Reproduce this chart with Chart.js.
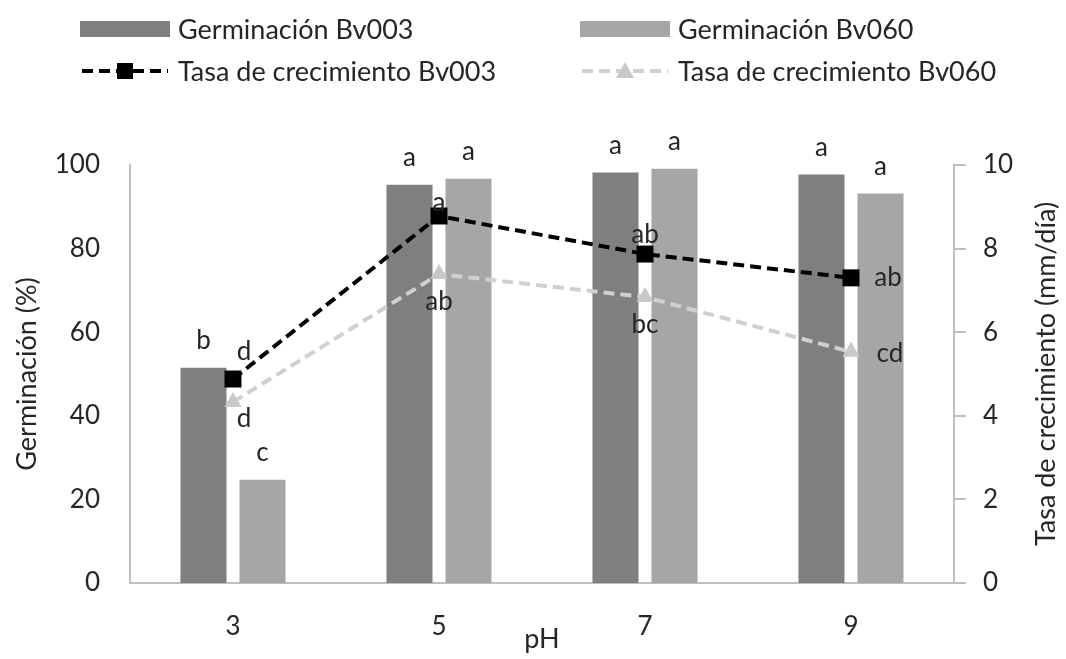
<!DOCTYPE html>
<html>
<head>
<meta charset="utf-8">
<script src="https://cdn.jsdelivr.net/npm/chart.js@4.4.1/dist/chart.umd.min.js"></script>
<style>
  body { margin: 0; background: #fff; }
  #wrap { position: relative; width: 1066px; height: 659px; font-family: Lato, sans-serif; color: #262626; }
  #legend { position: absolute; left: 0; top: 0; width: 1066px; height: 100px; }
  .item { position: absolute; display: flex; align-items: center; font-size: 27px; white-space: nowrap; }
  .item svg { margin-right: 8px; }
</style>
</head>
<body>
<div id="wrap">
  <canvas id="chart" width="1066" height="659"></canvas>
  <div id="legend">
    <div class="item" style="left:80px; top:12px;">
      <svg width="90" height="18"><rect x="0" y="1" width="90" height="16" fill="#7f7f7f"/></svg>Germinación Bv003
    </div>
    <div class="item" style="left:580px; top:12px;">
      <svg width="90" height="18"><rect x="0" y="1" width="90" height="16" fill="#a6a6a6"/></svg>Germinación Bv060
    </div>
    <div class="item" style="left:80px; top:54px;">
      <svg width="90" height="24"><line x1="2" y1="12" x2="88" y2="12" stroke="#000" stroke-width="4" stroke-dasharray="11,6"/><rect x="37" y="4" width="16" height="16" fill="#000"/></svg>Tasa de crecimiento Bv003
    </div>
    <div class="item" style="left:580px; top:54px;">
      <svg width="90" height="24"><line x1="2" y1="12" x2="88" y2="12" stroke="#d0d0d0" stroke-width="4" stroke-dasharray="11,6"/><polygon points="45,3 54,19 36,19" fill="#c8c8c8"/></svg>Tasa de crecimiento Bv060
    </div>
  </div>
</div>
<script>
// pH levels on the x axis
const phLabels = ['3', '5', '7', '9'];

// germination (%) per strain
const germBv003 = [51.5, 95.3, 98.2, 97.7];
const germBv060 = [24.7, 96.7, 99.1, 93.2];

// growth rate (mm/día) per strain
const rateBv003 = [4.88, 8.78, 7.87, 7.30];
const rateBv060 = [4.33, 7.39, 6.84, 5.53];

// significance letters
const lettersGermBv003 = ['b', 'a', 'a', 'a'];
const lettersGermBv060 = ['c', 'a', 'a', 'a'];
const lettersRateBv003 = ['d', 'a', 'ab', 'ab'];
const lettersRateBv060 = ['d', 'ab', 'bc', 'cd'];

const FONT = 'Lato, sans-serif';
const TEXT = '#262626';
const AXIS = '#bfbfbf';

// where each line letter sits relative to its point: [dx, dy]
const rateBv003Offsets = [[11, -27], [0, -13], [0, -19], [37, 0]];
const rateBv060Offsets = [[11, 17], [0, 28], [0, 28], [39, 2]];

const lettersPlugin = {
    id: 'letters',
    afterDatasetsDraw(chart) {
        const ctx = chart.ctx;
        ctx.save();
        ctx.font = '26px ' + FONT;
        ctx.fillStyle = TEXT;
        ctx.textAlign = 'center';
        ctx.textBaseline = 'middle';
        const barSets = [[0, lettersGermBv003], [1, lettersGermBv060]];
        barSets.forEach(([i, letters]) => {
            chart.getDatasetMeta(i).data.forEach((bar, j) => {
                ctx.fillText(letters[j], bar.x, bar.y - 27);
            });
        });
        const lineSets = [[2, lettersRateBv003, rateBv003Offsets], [3, lettersRateBv060, rateBv060Offsets]];
        lineSets.forEach(([i, letters, offs]) => {
            chart.getDatasetMeta(i).data.forEach((pt, j) => {
                ctx.fillText(letters[j], pt.x + offs[j][0], pt.y + offs[j][1]);
            });
        });
        // right axis title, reading bottom to top
        const area = chart.chartArea;
        ctx.translate(1046, (area.top + area.bottom) / 2);
        ctx.rotate(-Math.PI / 2);
        ctx.font = '27px ' + FONT;
        ctx.fillText('Tasa de crecimiento (mm/día)', 0, 0);
        ctx.restore();
    }
};

new Chart(document.getElementById('chart'), {
    type: 'bar',
    data: {
        labels: phLabels,
        datasets: [{
            label: 'Germinación Bv003',
            data: germBv003,
            backgroundColor: '#7f7f7f',
            yAxisID: 'y',
            order: 2
        }, {
            label: 'Germinación Bv060',
            data: germBv060,
            backgroundColor: '#a6a6a6',
            yAxisID: 'y',
            order: 2
        }, {
            type: 'line',
            label: 'Tasa de crecimiento Bv003',
            data: rateBv003,
            yAxisID: 'y2',
            borderColor: '#000',
            borderWidth: 4,
            borderDash: [11, 6],
            pointStyle: 'rect',
            pointRadius: 12,
            pointBackgroundColor: '#000',
            pointBorderWidth: 0,
            order: 0
        }, {
            type: 'line',
            label: 'Tasa de crecimiento Bv060',
            data: rateBv060,
            yAxisID: 'y2',
            borderColor: '#d0d0d0',
            borderWidth: 4,
            borderDash: [11, 6],
            pointStyle: 'triangle',
            pointRadius: 10,
            pointBackgroundColor: '#c8c8c8',
            pointBorderWidth: 0,
            order: 1
        }]
    },
    options: {
        responsive: false,
        animation: false,
        categoryPercentage: 0.573,
        barPercentage: 0.78,
        layout: { padding: { top: 165, left: 0, right: 0, bottom: 0 } },
        plugins: { legend: { display: false }, tooltip: { enabled: false } },
        scales: {
            x: {
                grid: { display: false },
                border: { color: AXIS, width: 2 },
                ticks: { color: TEXT, font: { family: FONT, size: 26 }, padding: 20 },
                title: { display: true, text: 'pH', color: TEXT, font: { family: FONT, size: 27 }, padding: { top: 3 } },
                afterFit: s => { s.height = 76; }
            },
            y: {
                position: 'left',
                min: 0, max: 100,
                ticks: { stepSize: 20, color: TEXT, font: { family: FONT, size: 26 }, padding: 30 },
                grid: { display: false, drawTicks: false },
                border: { color: AXIS, width: 2 },
                title: { display: true, text: 'Germinación (%)', color: TEXT, font: { family: FONT, size: 27 }, padding: { top: 11 } },
                afterFit: s => { s.width = 130; }
            },
            y2: {
                position: 'right',
                min: 0, max: 10,
                ticks: { stepSize: 2, color: TEXT, font: { family: FONT, size: 26 }, padding: 17 },
                grid: { drawOnChartArea: false, drawTicks: true, tickLength: 12, color: AXIS, lineWidth: 2 },
                border: { color: AXIS, width: 2 },
                afterFit: s => { s.width = 112; }
            }
        }
    },
    plugins: [lettersPlugin]
});
</script>
</body>
</html>
